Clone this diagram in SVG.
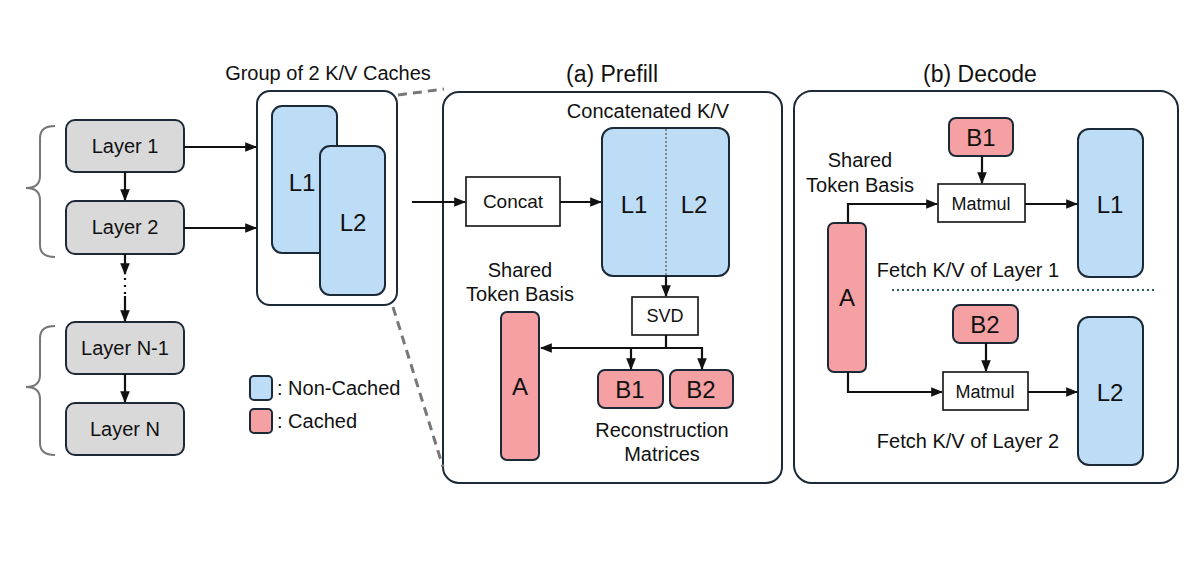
<svg xmlns="http://www.w3.org/2000/svg" width="1200" height="561" viewBox="0 0 1200 561">
<defs>
<style>
text{font-family:"Liberation Sans",Arial,sans-serif;fill:#111;text-anchor:middle}
.layer{fill:#d9d9d9;stroke:#1c2a38;stroke-width:2}
.blue{fill:#bddcf5;stroke:#1c2a38;stroke-width:2}
.pink{fill:#f5a1a4;stroke:#1c2a38;stroke-width:2}
.panel{fill:#fff;stroke:#1c2a38;stroke-width:2}
.op{fill:#fff;stroke:#111;stroke-width:1.6}
.ln{fill:none;stroke:#111;stroke-width:2.2}
.br{fill:none;stroke:#777;stroke-width:2}
.dash{fill:none;stroke:#777;stroke-width:3;stroke-dasharray:9 6}
.t18{font-size:18px}
.t19{font-size:19px}
.t20{font-size:20px}
.t23{font-size:23px}
.t24{font-size:24px}
</style>
<marker id="ah2" viewBox="0 0 10 10" refX="9" refY="5" markerWidth="12" markerHeight="12" orient="auto" markerUnits="userSpaceOnUse">
<path d="M0,1 L10,5 L0,9 z" fill="#111"/>
</marker>
</defs>
<rect width="1200" height="561" fill="#fff"/>

<g id="brackets">
<path class="br" d="M55,126 Q40,126 40,138 L40,176 Q40,188 26,188 Q40,188 40,200 L40,245 Q40,257 55,257"/>
<path class="br" d="M55,326 Q40,326 40,338 L40,375 Q40,387 26,387 Q40,387 40,399 L40,443 Q40,455 55,455"/>
</g>

<g id="layer1"><rect class="layer" x="66" y="120" width="118" height="52" rx="9"/><text class="t20" x="125" y="153">Layer 1</text></g>
<g id="layer2"><rect class="layer" x="66" y="201" width="118" height="53" rx="9"/><text class="t20" x="125" y="234">Layer 2</text></g>
<g id="layerN1"><rect class="layer" x="66" y="322" width="118" height="52" rx="9"/><text class="t20" x="125" y="355">Layer N-1</text></g>
<g id="layerN"><rect class="layer" x="66" y="403" width="118" height="52" rx="9"/><text class="t20" x="125" y="436">Layer N</text></g>

<g id="group">
<text class="t20" x="328" y="80">Group of 2 K/V Caches</text>
<rect class="panel" x="257" y="91" width="140" height="214" rx="13"/>
<rect class="blue" x="272" y="106" width="65" height="147" rx="10"/>
<text class="t24" x="302" y="191">L1</text>
<rect class="blue" x="320" y="146" width="65" height="149" rx="10"/>
<text class="t24" x="353" y="231">L2</text>
</g>

<g id="legend">
<rect class="blue" x="250" y="376" width="22" height="24" rx="4"/>
<text class="t20" x="277" y="395" style="text-anchor:start">: Non-Cached</text>
<rect class="pink" x="250" y="409" width="22" height="24" rx="4"/>
<text class="t20" x="277" y="428" style="text-anchor:start">: Cached</text>
</g>

<g id="prefill">
<text class="t23" x="612" y="82">(a) Prefill</text>
<rect class="panel" x="443" y="92" width="339" height="391" rx="16"/>
<text class="t20" x="648" y="118">Concatenated K/V</text>
</g>
<g id="concat"><rect class="op" x="466" y="177" width="94" height="49"/><text class="t19" x="513" y="208">Concat</text></g>
<g id="concatKV">
<rect class="blue" x="602" y="128" width="127" height="148" rx="11"/>
<line x1="666" y1="129" x2="666" y2="275" stroke="#777" stroke-width="1.6" stroke-dasharray="2 2"/>
<text class="t24" x="634" y="213">L1</text>
<text class="t24" x="694" y="213">L2</text>
</g>
<g id="svd"><rect class="op" x="632" y="297" width="66" height="38"/><text class="t18" x="665" y="322">SVD</text></g>
<g id="prefillA">
<text class="t20" x="520" y="277">Shared</text>
<text class="t20" x="520" y="301">Token Basis</text>
<rect class="pink" x="501" y="312" width="38" height="148" rx="6"/>
<text class="t24" x="520" y="395">A</text>
</g>
<g id="prefillB1"><rect class="pink" x="598" y="370" width="65" height="38" rx="7"/><text class="t24" x="630" y="398">B1</text></g>
<g id="prefillB2"><rect class="pink" x="670" y="370" width="63" height="38" rx="7"/><text class="t24" x="701" y="398">B2</text></g>
<g id="recon">
<text class="t20" x="662" y="437">Reconstruction</text>
<text class="t20" x="662" y="461">Matrices</text>
</g>

<g id="decode">
<text class="t23" x="980" y="82">(b) Decode</text>
<rect class="panel" x="794" y="91" width="384" height="392" rx="18"/>
<text class="t20" x="860" y="167">Shared</text>
<text class="t20" x="860" y="192">Token Basis</text>
<text class="t20" x="968" y="277">Fetch K/V of Layer 1</text>
<line x1="892" y1="290" x2="1157" y2="290" stroke="#2a5a66" stroke-width="2" stroke-dasharray="2 3"/>
<text class="t20" x="968" y="448">Fetch K/V of Layer 2</text>
</g>
<g id="decodeB1"><rect class="pink" x="949" y="118" width="64" height="38" rx="7"/><text class="t24" x="981" y="146">B1</text></g>
<g id="matmul1"><rect class="op" x="938" y="184" width="87" height="38"/><text class="t18" x="981" y="210">Matmul</text></g>
<g id="decodeA"><rect class="pink" x="828" y="223" width="38" height="149" rx="6"/><text class="t24" x="847" y="306">A</text></g>
<g id="decodeL1"><rect class="blue" x="1078" y="129" width="65" height="148" rx="11"/><text class="t24" x="1110" y="213">L1</text></g>
<g id="decodeB2"><rect class="pink" x="953" y="305" width="65" height="38" rx="7"/><text class="t24" x="985" y="333">B2</text></g>
<g id="matmul2"><rect class="op" x="943" y="372" width="85" height="38"/><text class="t18" x="985" y="398">Matmul</text></g>
<g id="decodeL2"><rect class="blue" x="1078" y="317" width="65" height="148" rx="11"/><text class="t24" x="1110" y="401">L2</text></g>

<g id="connectors">
<line class="ln" x1="125" y1="172" x2="125" y2="200" marker-end="url(#ah2)"/>
<line class="ln" x1="125" y1="254" x2="125" y2="274" marker-end="url(#ah2)"/>
<line class="ln" x1="125" y1="278" x2="125" y2="296" stroke-dasharray="2 5"/>
<line class="ln" x1="125" y1="296" x2="125" y2="321" marker-end="url(#ah2)"/>
<line class="ln" x1="125" y1="374" x2="125" y2="402" marker-end="url(#ah2)"/>
<line class="ln" x1="184" y1="147" x2="256" y2="147" marker-end="url(#ah2)"/>
<line class="ln" x1="184" y1="228" x2="256" y2="228" marker-end="url(#ah2)"/>
<line class="dash" x1="398" y1="95" x2="444" y2="89"/>
<line class="dash" x1="393" y1="307" x2="443" y2="467"/>
<line class="ln" x1="412" y1="202" x2="465" y2="202" marker-end="url(#ah2)"/>
<line class="ln" x1="560" y1="202" x2="601" y2="202" marker-end="url(#ah2)"/>
<line class="ln" x1="666" y1="276" x2="666" y2="296" marker-end="url(#ah2)"/>
<polyline class="ln" points="666,335 666,348 541,348" marker-end="url(#ah2)"/>
<polyline class="ln" points="666,348 702,348 702,369" marker-end="url(#ah2)"/>
<line class="ln" x1="631" y1="348" x2="631" y2="369" marker-end="url(#ah2)"/>
<line class="ln" x1="982" y1="156" x2="982" y2="183" marker-end="url(#ah2)"/>
<polyline class="ln" points="848,223 848,204 937,204" marker-end="url(#ah2)"/>
<line class="ln" x1="1025" y1="204" x2="1077" y2="204" marker-end="url(#ah2)"/>
<line class="ln" x1="986" y1="343" x2="986" y2="371" marker-end="url(#ah2)"/>
<polyline class="ln" points="848,372 848,392 942,392" marker-end="url(#ah2)"/>
<line class="ln" x1="1028" y1="392" x2="1077" y2="392" marker-end="url(#ah2)"/>
</g>
</svg>
